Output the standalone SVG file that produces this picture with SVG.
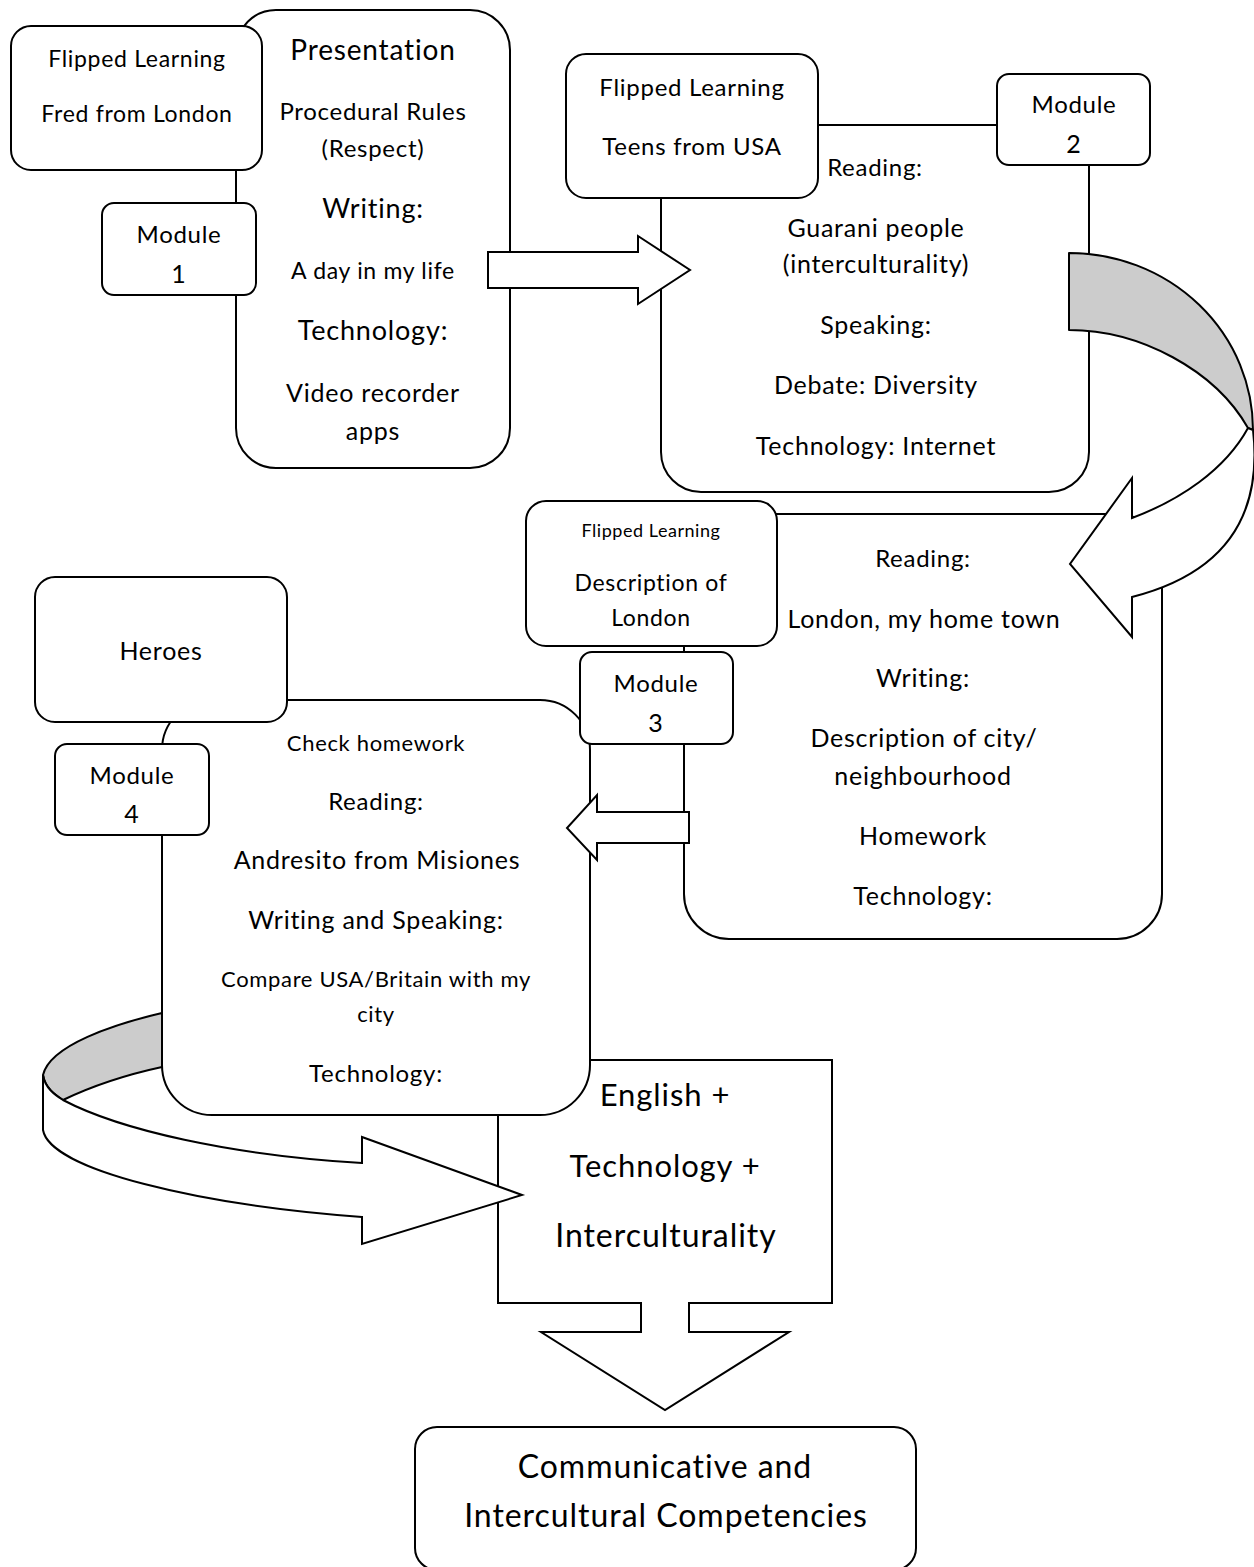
<svg xmlns="http://www.w3.org/2000/svg" width="1254" height="1567" viewBox="0 0 1254 1567">
<style>
.b{fill:#fff;stroke:#000;stroke-width:2}
.g{fill:#cccccc;stroke:#000;stroke-width:2;stroke-linejoin:round}
text{font-family:Lato,"Liberation Sans",sans-serif;fill:#000;text-anchor:middle;letter-spacing:0.03em}
.s18{font-size:18px}.s22{font-size:22px}.s23{font-size:23px}.s24{font-size:24px}.s25{font-size:25px}.s27{font-size:27px}.s28{font-size:28px}.s31{font-size:31px}.s32{font-size:32px}
</style>
<rect width="1254" height="1567" fill="#fff"/>
<g id="module1-content">
<rect class="b" x="236" y="10" width="274" height="458" rx="40"/>
<text class="s28" x="373" y="60">Presentation</text>
<text class="s24" x="373" y="120">Procedural Rules</text>
<text class="s24" x="373" y="157">(Respect)</text>
<text class="s27" x="373" y="218">Writing:</text>
<text class="s23" x="373" y="279">A day in my life</text>
<text class="s27" x="373" y="340">Technology:</text>
<text class="s25" x="373" y="402">Video recorder</text>
<text class="s25" x="373" y="440">apps</text>
</g>
<g id="flipped1">
<rect class="b" x="11" y="26" width="251" height="144" rx="20"/>
<text class="s23" x="137" y="67">Flipped Learning</text>
<text class="s23" x="137" y="122">Fred from London</text>
</g>
<g id="module1">
<rect class="b" x="102" y="203" width="154" height="92" rx="12"/>
<text class="s24" x="179" y="243">Module</text>
<text class="s25" x="179" y="283">1</text>
</g>
<g id="module2-content">
<rect class="b" x="661" y="125" width="428" height="367" rx="40"/>
<text class="s24" x="875" y="176">Reading:</text>
<text class="s25" x="876" y="237">Guarani people</text>
<text class="s25" x="876" y="273">(interculturality)</text>
<text class="s25" x="876" y="334">Speaking:</text>
<text class="s25" x="876" y="394">Debate: Diversity</text>
<text class="s25" x="876" y="455">Technology: Internet</text>
</g>
<g id="flipped2">
<rect class="b" x="566" y="54" width="252" height="144" rx="20"/>
<text class="s24" x="692" y="96">Flipped Learning</text>
<text class="s24" x="692" y="155">Teens from USA</text>
</g>
<g id="module2">
<rect class="b" x="997" y="74" width="153" height="91" rx="12"/>
<text class="s24" x="1074" y="113">Module</text>
<text class="s25" x="1074" y="153">2</text>
</g>
<g id="module3-content">
<rect class="b" x="684" y="514" width="478" height="425" rx="45"/>
<text class="s24" x="923" y="567">Reading:</text>
<text class="s25" x="924" y="628">London, my home town</text>
<text class="s25" x="923" y="687">Writing:</text>
<text class="s25" x="924" y="747">Description of city/</text>
<text class="s25" x="923" y="785">neighbourhood</text>
<text class="s25" x="923" y="845">Homework</text>
<text class="s25" x="923" y="905">Technology:</text>
</g>
<g id="flipped3">
<rect class="b" x="526" y="501" width="251" height="145" rx="20"/>
<text class="s18" x="651" y="537">Flipped Learning</text>
<text class="s23" x="651" y="591">Description of</text>
<text class="s23" x="651" y="626">London</text>
</g>
<g id="result-box">
<rect class="b" x="498" y="1060" width="334" height="243"/>
<text class="s31" x="665" y="1106">English +</text>
<text class="s31" x="665" y="1177">Technology +</text>
<text class="s32" x="666" y="1247">Interculturality</text>
</g>
<g id="module4-content">
<rect class="b" x="162" y="700" width="428" height="415" rx="50"/>
<text class="s22" x="376" y="751">Check homework</text>
<text class="s24" x="376" y="810">Reading:</text>
<text class="s25" x="377" y="869">Andresito from Misiones</text>
<text class="s25" x="376" y="929">Writing and Speaking:</text>
<text class="s22" x="376" y="987">Compare USA/Britain with my</text>
<text class="s22" x="376" y="1022">city</text>
<text class="s24" x="376" y="1082">Technology:</text>
</g>
<g id="heroes">
<rect class="b" x="35" y="577" width="252" height="145" rx="20"/>
<text class="s25" x="161" y="660">Heroes</text>
</g>
<g id="module4">
<rect class="b" x="55" y="744" width="154" height="91" rx="12"/>
<text class="s24" x="132" y="784">Module</text>
<text class="s25" x="132" y="823">4</text>
</g>
<g id="module3">
<rect class="b" x="580" y="652" width="153" height="92" rx="12"/>
<text class="s24" x="656" y="692">Module</text>
<text class="s25" x="656" y="732">3</text>
</g>
<g id="competencies">
<rect class="b" x="415" y="1427" width="501" height="143" rx="22"/>
<text class="s32" x="665" y="1478">Communicative and</text>
<text class="s32" x="666" y="1527">Intercultural Competencies</text>
</g>
<g id="connectors">
<polygon class="b" points="488,252 638,252 638,236 690,270 638,304 638,288 488,288" stroke-linejoin="miter"/>
<path class="g" d="M1069,253 A184,177 0 0 1 1253,430 L1248,428 C1215,370 1140,330 1069,330 Z"/>
<path class="b" d="M1248,428 C1225,470 1180,500 1132,518 L1132,478 L1070,564 L1132,637 L1132,597 C1230,572 1262,510 1253,430 Z"/>
<polygon class="b" points="689,812 597,812 597,795 567,828 597,860 597,843 689,843"/>
<path class="g" d="M162,1013 C115,1024 50,1045 43,1075 C45,1088 55,1095 63,1100 C90,1087 125,1075 162,1067 Z"/>
<path class="b" d="M43,1075 C45,1088 55,1095 63,1100 C120,1130 230,1155 362,1163 L362,1137 L522,1195 L362,1244 L362,1217 C200,1205 50,1170 43,1130 Z"/>
<path class="b" d="M641,1302 L641,1332 L541,1332 L665,1410 L789,1332 L689,1332 L689,1302"/>
</g>
</svg>
